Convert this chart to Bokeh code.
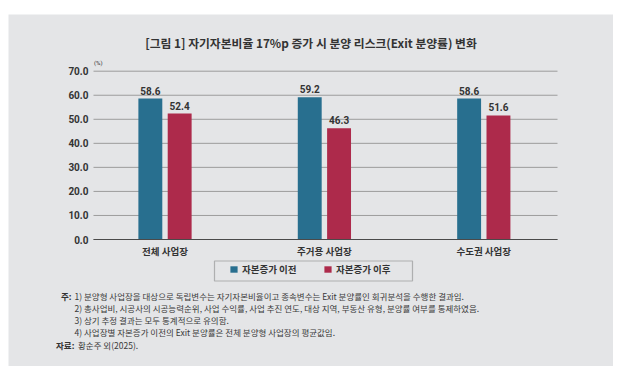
from bokeh.plotting import figure
from bokeh.models import (ColumnDataSource, Range1d, FixedTicker, Label, LabelSet,
                          Legend, LegendItem, BoxAnnotation, NumeralTickFormatter)
from bokeh.transform import dodge
from bokeh.embed import file_html
from bokeh.resources import INLINE
from bokeh.core.properties import value

# ---------------- data ----------------
categories = ["전체 사업장", "주거용 사업장", "수도권 사업장"]
before = [58.6, 59.2, 58.6]
after = [52.4, 46.3, 51.6]
series_names = ["자본증가 이전", "자본증가 이후"]
y_ticks = [0, 10, 20, 30, 40, 50, 60, 70]
title_text = "[그림 1] 자기자본비율 17%p 증가 시 분양 리스크(Exit 분양률) 변화"
unit_text = "(%)"
note_head = "주:"
notes = [
    "1) 분양형 사업장을 대상으로 독립변수는 자기자본비율이고 종속변수는 Exit 분양률인 회귀분석을 수행한 결과임.",
    "2) 총사업비, 시공사의 시공능력순위, 사업 수익률, 사업 추진 연도, 대상 지역, 부동산 유형, 분양률 여부를 통제하였음.",
    "3) 상기 추정 결과는 모두 통계적으로 유의함.",
    "4) 사업장별 자본증가 이전의 Exit 분양률은 전체 분양형 사업장의 평균값임.",
]
source_head = "자료:"
source_text = "황순주 외(2025)."

# ---------------- style / layout constants ----------------
BG = "#e4e5e7"
BLUE = "#286f8f"
RED = "#ad2a4b"
TXT = "#333333"
NOTE = "#3a3a3a"
GRID = "#9c9c9c"
KR = "Noto Sans CJK KR"
NUM = "Roboto"

PAD_L, PAD_T = 8, 14              # white area left / above the grey panel
W, H = 613, 366                   # canvas size (grey panel 8..613 x 14..366)
CH_L, CH_R = 93, 557              # chart area (page px)
CH_Y0, CH_Y70 = 239, 70.7         # page y of value 0 and value 70

x_lo, x_hi = 0.5514, 3.4624       # data x at CH_L / CH_R
ppx = (CH_R - CH_L) / (x_hi - x_lo)
ppy = (CH_Y0 - CH_Y70) / 70.0

def dx(page_x):
    return x_lo + (page_x - CH_L) / ppx

def dy(page_y):
    return (CH_Y0 - page_y) / ppy

xpos = list(range(1, len(categories) + 1))
src = ColumnDataSource(dict(
    x=xpos, before=before, after=after,
    before_lbl=[f"{v:.1f}" for v in before],
    after_lbl=[f"{v:.1f}" for v in after],
))

p = figure(width=W, height=H,
           x_range=Range1d(dx(PAD_L), dx(W)), y_range=Range1d(dy(H), dy(PAD_T)),
           output_backend="svg", toolbar_location=None,
           min_border_left=PAD_L, min_border_top=PAD_T,
           min_border_right=0, min_border_bottom=0)
p.title.visible = False
p.background_fill_color = BG
p.border_fill_color = "white"
p.outline_line_color = None
p.xgrid.visible = False
p.ygrid.visible = False

# horizontal grid lines at the tick values, spanning the chart area
p.segment(x0=[x_lo] * len(y_ticks), x1=[x_hi] * len(y_ticks), y0=y_ticks, y1=y_ticks,
          line_color=GRID, line_width=1)

off = 0.092
bw = 0.15
r1 = p.vbar(x=dodge("x", -off, range=p.x_range), top="before", width=bw, source=src,
            fill_color=BLUE, line_color=None)
r2 = p.vbar(x=dodge("x", off, range=p.x_range), top="after", width=bw, source=src,
            fill_color=RED, line_color=None)

for col, lbl, o in (("before", "before_lbl", -off), ("after", "after_lbl", off)):
    p.add_layout(LabelSet(x=dodge("x", o, range=p.x_range), y=col, text=lbl, source=src,
                          y_offset=4, text_align="center", text_baseline="bottom",
                          text_font=value(NUM), text_font_style="bold",
                          text_font_size="10px", text_color=TXT))

# axes (placed at fixed data locations inside the frame)
xa = p.xaxis[0]
xa.fixed_location = 0
xa.bounds = (x_lo, x_hi)
xa.ticker = FixedTicker(ticks=xpos)
xa.major_label_overrides = {x: c for x, c in zip(xpos, categories)}
xa.major_tick_line_color = None
xa.major_tick_out = 0
xa.major_tick_in = 0
xa.minor_tick_line_color = None
xa.axis_line_color = "#4a4a4a"
xa.axis_line_width = 1.2
xa.major_label_text_font = KR
xa.major_label_text_font_style = "bold"
xa.major_label_text_font_size = "9.5px"
xa.major_label_text_color = TXT
xa.major_label_standoff = 4

ya = p.yaxis[0]
ya.fixed_location = x_lo
ya.bounds = (0, 70)
ya.ticker = FixedTicker(ticks=y_ticks)
ya.formatter = NumeralTickFormatter(format="0.0")
ya.axis_line_color = None
ya.major_tick_line_color = None
ya.major_tick_out = 0
ya.major_tick_in = 0
ya.minor_tick_line_color = None
ya.major_label_text_font = NUM
ya.major_label_text_font_style = "bold"
ya.major_label_text_font_size = "10px"
ya.major_label_text_color = TXT
ya.major_label_standoff = 5

# legend
legend = Legend(items=[LegendItem(label=series_names[0], renderers=[r1]),
                       LegendItem(label=series_names[1], renderers=[r2])],
                orientation="horizontal", location=(224 - PAD_L, H - 280.5),
                glyph_width=9, glyph_height=8, label_standoff=4, spacing=10,
                label_width=71, padding=5, margin=0, label_height=10,
                label_text_font=KR, label_text_font_style="bold",
                label_text_font_size="9.5px", label_text_color=TXT,
                border_line_alpha=0, background_fill_alpha=0)
p.add_layout(legend)
p.add_layout(BoxAnnotation(left=dx(214), right=dx(412), top=dy(260.5), bottom=dy(280.5),
                           fill_alpha=0, line_color="#333333", line_width=1.2))

def lab(px_, py_, text, size, bold=False, align="left", font=KR, color=TXT):
    p.add_layout(Label(x=dx(px_), y=dy(py_), text=text, text_font=font,
                       text_font_size=size, text_font_style="bold" if bold else "normal",
                       text_color=color, text_align=align, text_baseline="middle"))

lab(310.5, 41.5, title_text, "11.8px", bold=True, align="center")
lab(93.5, 62, unit_text, "6px", font=NUM)

note_y = [295, 307, 319, 331]
lab(60.5, note_y[0], note_head, "8.5px", bold=True)
for yy, t in zip(note_y, notes):
    lab(74, yy, t, "8.5px", color=NOTE)
lab(55.5, 344, source_head, "8.5px", bold=True)
lab(77.5, 344, source_text, "8.5px", color=NOTE)

open("out.html", "w").write(file_html(p, INLINE))
